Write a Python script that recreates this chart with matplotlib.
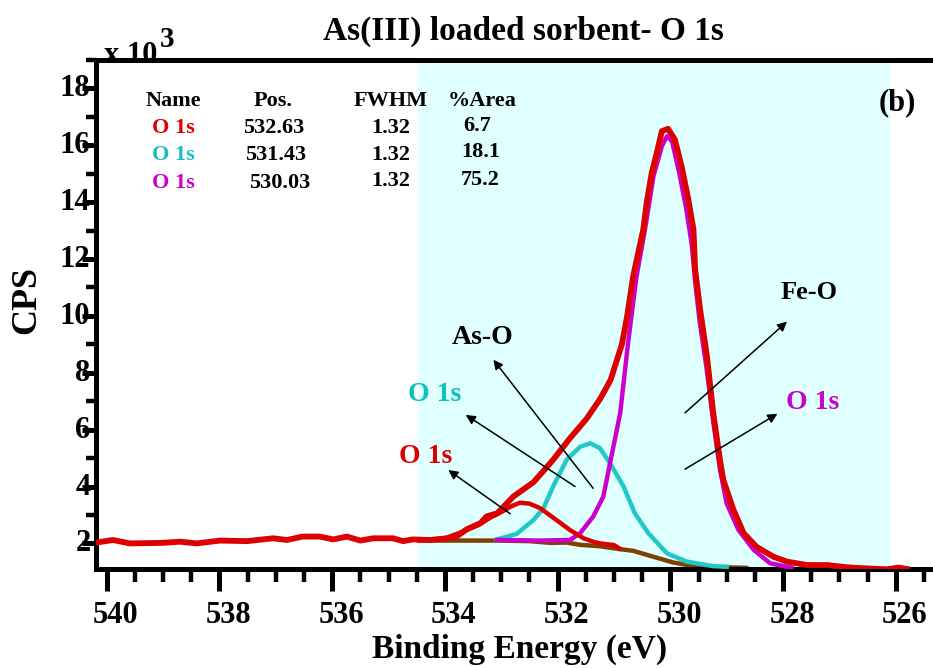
import matplotlib
matplotlib.use('Agg')
import matplotlib.pyplot as plt
from matplotlib.ticker import MultipleLocator
import matplotlib.transforms as mtransforms

plt.rcParams['font.family'] = ['Liberation Serif', 'DejaVu Serif']
plt.rcParams['font.weight'] = 'bold'

# ---------------- data (Binding energy in eV, CPS in units of 10^3) ----------------
env_ev = [540.15, 539.89, 539.59, 539.00, 538.70, 538.40, 537.99, 537.51, 537.05, 536.80,
          536.53, 536.22, 535.98, 535.74, 535.50, 535.27, 534.92, 534.74, 534.57, 534.26,
          533.96, 533.78, 533.61, 533.37, 533.26, 533.07, 532.79, 532.43, 532.25, 532.08,
          531.78, 531.48, 531.24, 531.06, 530.86, 530.77, 530.66, 530.48, 530.42, 530.33,
          530.24, 530.15, 530.04, 529.92, 529.80, 529.68, 529.59, 529.56, 529.47, 529.35,
          529.24, 529.12, 529.06, 528.88, 528.70, 528.47, 528.17, 527.93, 527.58, 527.22,
          526.87, 526.51, 526.16, 525.95, 525.80]
env_cps = [2.04, 2.12, 2.00, 2.02, 2.06, 2.00, 2.10, 2.08, 2.18, 2.12,
           2.24, 2.24, 2.14, 2.24, 2.10, 2.18, 2.18, 2.08, 2.14, 2.12,
           2.18, 2.26, 2.50, 2.71, 2.95, 3.06, 3.64, 4.15, 4.55, 4.94,
           5.70, 6.40, 7.10, 7.75, 9.00, 9.95, 11.39, 13.04, 13.98, 15.03,
           15.74, 16.50, 16.58, 16.20, 15.26, 14.09, 13.04, 11.63, 10.20, 8.57,
           6.60, 4.94, 4.23, 3.18, 2.36, 1.88, 1.53, 1.36, 1.24, 1.24,
           1.16, 1.12, 1.09, 1.15, 1.10]

bg_ev = [534.45, 534.00, 533.50, 533.02, 532.50, 532.13, 531.84, 531.60, 531.25, 530.90,
         530.66, 530.30, 529.95, 529.59, 529.00, 528.64]
bg_cps = [2.10, 2.10, 2.10, 2.10, 2.08, 2.02, 2.03, 1.95, 1.90, 1.80,
          1.74, 1.53, 1.33, 1.20, 1.16, 1.14]

# O 1s component at 532.63 eV (red)
c1_ev = [534.45, 534.00, 533.70, 533.40, 533.20, 533.00, 532.84, 532.67, 532.50, 532.31,
         532.02, 531.78, 531.54, 531.37, 531.25, 531.00, 530.90]
c1_cps = [2.10, 2.18, 2.40, 2.65, 2.90, 3.10, 3.29, 3.43, 3.40, 3.24,
          2.82, 2.47, 2.18, 2.06, 2.00, 1.94, 1.82]

# O 1s component at 531.43 eV (cyan)
c2_ev = [533.08, 532.73, 532.43, 532.25, 532.08, 531.84, 531.60, 531.42, 531.25, 531.07,
         530.83, 530.63, 530.39, 530.06, 529.71, 529.24, 529.00]
c2_cps = [2.14, 2.33, 2.82, 3.24, 4.00, 4.94, 5.40, 5.52, 5.35, 4.82,
          4.00, 3.06, 2.36, 1.65, 1.36, 1.20, 1.18]

# O 1s component at 530.03 eV (magenta)
c3_ev = [533.07, 532.30, 531.78, 531.60, 531.37, 531.19, 531.07, 530.89, 530.75, 530.60,
         530.45, 530.30, 530.15, 530.06, 529.97, 529.85, 529.72, 529.62, 529.56, 529.48,
         529.36, 529.24, 529.12, 529.00, 528.79, 528.52, 528.23, 527.93, 527.85]
c3_cps = [2.12, 2.10, 2.12, 2.36, 2.94, 3.64, 4.82, 6.58, 9.05, 11.39,
          13.04, 14.91, 15.97, 16.32, 16.14, 15.10, 13.80, 12.50, 11.20, 9.80,
          8.20, 6.30, 4.60, 3.40, 2.47, 1.77, 1.30, 1.18, 1.15]

tbl_header = ['Name', 'Pos.', 'FWHM', '%Area']
tbl_names = ['O 1s', 'O 1s', 'O 1s']
tbl_pos = ['532.63', '531.43', '530.03']
tbl_fwhm = ['1.32', '1.32', '1.32']
tbl_area = ['6.7', '18.1', '75.2']

RED = '#DD0000'
CYAN = '#22C8C8'
MAG = '#CC00CC'
BROWN = '#804000'
CYAN_TXT = '#10C0C0'

W, H = 933, 668
fig = plt.figure(figsize=(W / 100, H / 100), dpi=100)
ax = fig.add_axes([96 / W, (H - 569) / H, 1 - 96 / W, (569 - 60) / H])

def fp(x, y):
    return x / W, 1 - y / H

ax.axvspan(534.48, 526.10, color='#E0FFFF', lw=0, zorder=0)
ax.plot(bg_ev, bg_cps, color=BROWN, lw=3.2, zorder=2, solid_capstyle='round')
ax.plot(c2_ev, c2_cps, color=CYAN, lw=3.2, zorder=3, solid_joinstyle='round')
ax.plot(c3_ev, c3_cps, color=MAG, lw=3.2, zorder=3, solid_joinstyle='round')
ax.plot(c1_ev, c1_cps, color=RED, lw=3.2, zorder=4, solid_joinstyle='round')
ax.plot(env_ev, env_cps, color=RED, lw=4.2, zorder=5, solid_joinstyle='round')

ax.set_xlim(540.19, 525.34)
ax.set_ylim(1.1, 19.0)

ax.xaxis.set_major_locator(MultipleLocator(2))
ax.xaxis.set_minor_locator(MultipleLocator(0.5))
ax.yaxis.set_minor_locator(MultipleLocator(1))
ax.set_yticks([2, 4, 6, 8, 10, 12, 14, 16, 18])

for s in ['left', 'bottom', 'top']:
    ax.spines[s].set_linewidth(3.6)
ax.spines['right'].set_visible(False)

ax.tick_params(axis='x', which='major', direction='out', length=16, width=3.6,
               labelsize=22, pad=7)
ax.tick_params(axis='x', which='minor', direction='out', length=9, width=3.2)
ax.tick_params(axis='y', which='major', direction='out', length=10, width=3.6,
               labelsize=22, pad=-6)
ax.tick_params(axis='y', which='minor', direction='out', length=7, width=3.2)

offx = mtransforms.ScaledTranslation(9 / 100, 0, fig.dpi_scale_trans)
for lab in ax.get_xticklabels():
    lab.set_transform(lab.get_transform() + offx)
    lab.set_fontweight('bold')
offy = mtransforms.ScaledTranslation(0, 3 / 100, fig.dpi_scale_trans)
for lab in ax.get_yticklabels():
    lab.set_transform(lab.get_transform() + offy)
    lab.set_fontweight('bold')

# axis labels and title
fig.text(*fp(520, 658), 'Binding Energy (eV)', ha='center', va='baseline',
         fontsize=24, fontweight='bold')
fig.text(*fp(27, 300), 'CPS', ha='center', va='center', rotation=90,
         fontsize=26, fontweight='bold')
fig.text(*fp(523, 40), 'As(III) loaded sorbent- O 1s', ha='center', va='baseline',
         fontsize=24, fontweight='bold')
fig.text(*fp(104, 63), 'x 10', ha='left', va='baseline', fontsize=22, fontweight='bold')
fig.text(*fp(160, 47), '3', ha='left', va='baseline', fontsize=21, fontweight='bold')
fig.text(*fp(897, 103), '(b)', ha='center', va='center', fontsize=22, fontweight='bold')

# fit table
hx = [173, 273, 391, 482]
for x, t in zip(hx, tbl_header):
    fig.text(*fp(x, 101), t, ha='center', va='center', fontsize=16, fontweight='bold')
row_y = [128, 155.5, 183]
cols = [RED, CYAN_TXT, MAG]
pos_x = [274, 276, 280]
area_x = [477, 481, 480]
area_y = [126, 152, 180]
fwhm_y = [128, 155.5, 181]
for i in range(3):
    fig.text(*fp(173, row_y[i]), tbl_names[i], ha='center', va='center',
             fontsize=16, fontweight='bold', color=cols[i])
    fig.text(*fp(pos_x[i], row_y[i]), tbl_pos[i], ha='center', va='center',
             fontsize=16, fontweight='bold')
    fig.text(*fp(391, fwhm_y[i]), tbl_fwhm[i], ha='center', va='center',
             fontsize=16, fontweight='bold')
    fig.text(*fp(area_x[i], area_y[i]), tbl_area[i], ha='center', va='center',
             fontsize=16, fontweight='bold')

# peak annotations (text position, arrow tail, arrow head) in data coordinates
ann = [
    ('Fe-O', 'black', 19, (527.54, 10.82), (529.74, 6.59), (527.93, 9.80)),
    ('O 1s', MAG, 20, (527.48, 6.94), (529.74, 4.61), (528.10, 6.56)),
    ('As-O', 'black', 20, (533.33, 9.23), (531.37, 3.94), (533.14, 8.46)),
    ('O 1s', CYAN_TXT, 20, (534.19, 7.23), (531.69, 4.00), (533.63, 6.52)),
    ('O 1s', RED, 20, (534.34, 5.05), (532.84, 3.04), (533.94, 4.58)),
]
for txt, c, fs, tpos, tail, head in ann:
    ax.text(tpos[0], tpos[1], txt, color=c, fontsize=fs, fontweight='bold',
            ha='center', va='center', zorder=7)
    ax.annotate('', xy=head, xytext=tail,
                arrowprops=dict(arrowstyle='-|>', color='black', lw=1.1,
                                mutation_scale=14, shrinkA=0, shrinkB=0),
                zorder=6)

fig.savefig('out.png', dpi=100)
